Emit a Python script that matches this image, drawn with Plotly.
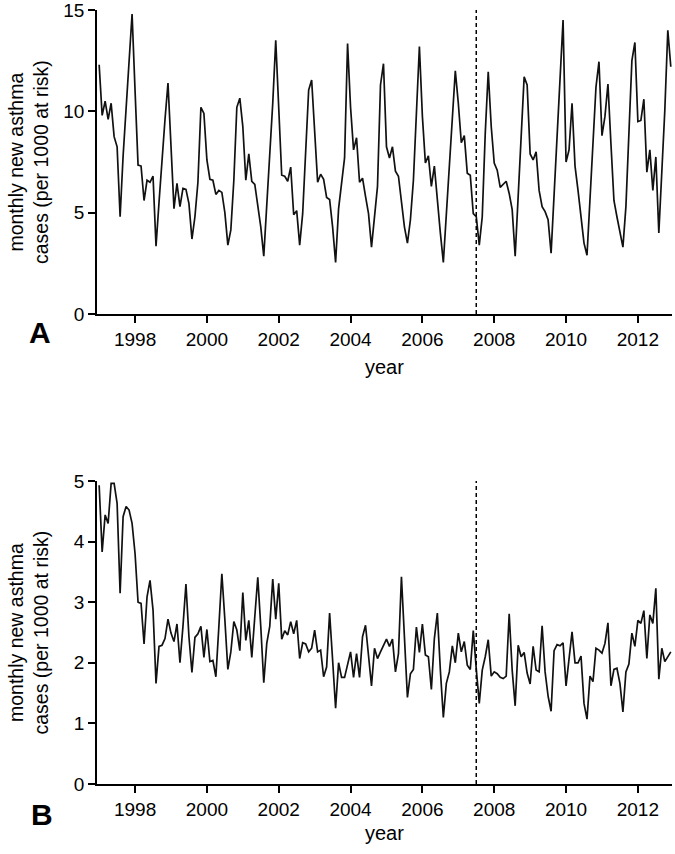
import plotly.graph_objects as go

# ---- data (monthly, Jan 1997 - Dec 2012) ----
start_year = 1997
panel_a = [
    12.3, 9.8, 10.5, 9.6, 10.4, 8.75, 8.25, 4.8, 7.8, 10.3, 12.9, 14.8,
    11.0, 7.35, 7.3, 5.6, 6.6, 6.5, 6.8, 3.35, 5.5, 7.8, 9.6, 11.4,
    8.3, 5.2, 6.45, 5.3, 6.2, 6.15, 5.45, 3.7, 4.8, 6.5, 10.2, 9.9,
    7.6, 6.65, 6.6, 5.9, 6.1, 6.0, 5.0, 3.4, 4.15, 6.6, 10.2, 10.65,
    9.25, 6.6, 7.9, 6.55, 6.4, 5.3, 4.3, 2.85, 5.3, 7.75, 10.4, 13.5,
    9.75, 6.85, 6.8, 6.55, 7.25, 4.9, 5.1, 3.4, 4.95, 7.9, 11.05, 11.55,
    9.0, 6.5, 6.9, 6.65, 5.75, 5.65, 4.3, 2.55, 5.2, 6.45, 7.7, 13.35,
    10.2, 8.1, 8.7, 6.5, 6.7, 5.8, 4.95, 3.3, 4.65, 6.3, 11.3, 12.35,
    8.25, 7.7, 8.25, 7.05, 6.8, 5.6, 4.3, 3.5, 4.65, 6.6, 9.9, 13.2,
    9.75, 7.45, 7.8, 6.3, 7.3, 5.45, 4.0, 2.55, 4.8, 7.1, 9.6, 12.0,
    10.4, 8.45, 8.8, 6.95, 6.85, 4.95, 4.8, 3.4, 4.8, 8.9, 11.95, 9.25,
    7.45, 7.1, 6.25, 6.4, 6.55, 5.95, 5.15, 2.85, 5.6, 8.6, 11.7, 11.3,
    7.9, 7.6, 8.0, 6.1, 5.3, 5.05, 4.65, 3.0, 5.8, 8.6, 11.4, 14.5,
    7.5, 8.1, 10.4, 7.3, 6.1, 4.8, 3.5, 2.9, 5.6, 8.6, 11.2, 12.45,
    8.8, 9.75, 11.35, 8.4, 5.6, 4.8, 4.0, 3.3, 5.3, 8.6, 12.5, 13.4,
    9.5, 9.55, 10.6, 7.0, 8.1, 6.1, 7.75, 4.0, 6.95, 10.05, 14.0, 12.2,
]
panel_b = [
    4.93, 3.83, 4.44, 4.3, 4.96, 4.96, 4.63, 3.15, 4.41, 4.58, 4.52, 4.3,
    3.8, 3.0, 2.98, 2.31, 3.09, 3.36, 2.87, 1.66, 2.27, 2.29, 2.4, 2.72,
    2.49, 2.35, 2.64, 2.0, 2.6, 3.3, 2.43, 1.84, 2.42, 2.48, 2.6, 2.09,
    2.55, 2.02, 2.04, 1.77, 2.6, 3.47, 2.71, 1.89, 2.18, 2.68, 2.54, 2.2,
    3.16, 2.37, 2.7, 2.09, 2.76, 3.41, 2.6, 1.67, 2.32, 2.6, 3.38, 2.72,
    3.31, 2.39, 2.53, 2.46, 2.68, 2.48, 2.7, 2.07, 2.33, 2.31, 2.18, 2.24,
    2.54, 2.18, 2.21, 1.77, 1.93, 2.82, 2.05, 1.25, 2.0, 1.76, 1.76, 1.99,
    2.18, 1.76, 2.15, 1.76, 2.43, 2.62, 2.1, 1.62, 2.24, 2.07, 2.18, 2.29,
    2.39, 2.27, 2.39, 1.85, 2.15, 3.42, 2.32, 1.43, 1.82, 1.89, 2.59, 2.17,
    2.64, 2.13, 2.1, 1.56, 2.4, 2.82, 1.88, 1.1, 1.66, 1.85, 2.28, 2.0,
    2.49, 2.18, 2.35, 1.96, 1.89, 2.53, 1.9, 1.33, 1.88, 2.1, 2.38, 1.78,
    1.85, 1.82, 1.76, 1.74, 1.78, 2.81, 1.88, 1.29, 2.29, 2.1, 2.17, 1.83,
    1.65, 2.27, 1.88, 1.85, 2.61, 1.85, 1.45, 1.2, 2.2, 2.3, 2.28, 2.33,
    1.62, 2.1, 2.51, 2.0, 2.0, 2.11, 1.33, 1.07, 1.78, 1.69, 2.24, 2.21,
    2.16, 2.32, 2.66, 1.62, 1.89, 1.91, 1.66, 1.19, 1.85, 1.98, 2.49, 2.27,
    2.7, 2.65, 2.86, 2.07, 2.79, 2.65, 3.23, 1.73, 2.24, 2.02, 2.1, 2.18,
]
intervention_year = 2007.5
x_tick_years = [1998, 2000, 2002, 2004, 2006, 2008, 2010, 2012]
y_ticks_a = [0, 5, 10, 15]
y_ticks_b = [0, 1, 2, 3, 4, 5]
y_title = "monthly new asthma<br>cases (per 1000 at risk)"

years = [start_year + i / 12 for i in range(len(panel_a))]

FONT = "Liberation Sans, Arial, sans-serif"
fig = go.Figure()
fig.add_trace(go.Scatter(x=years, y=panel_a, mode="lines",
                         line=dict(color="#111111", width=1.7),
                         xaxis="x", yaxis="y", showlegend=False,
                         cliponaxis=False))
fig.add_trace(go.Scatter(x=years, y=panel_b, mode="lines",
                         line=dict(color="#111111", width=1.7),
                         xaxis="x2", yaxis="y2", showlegend=False,
                         cliponaxis=False))

xr = [1996.94, 2012.95]
common_x = dict(range=xr, tickmode="array", tickvals=x_tick_years,
                ticktext=[str(y) for y in x_tick_years],
                showline=True, linecolor="black", linewidth=1.5,
                ticks="outside", ticklen=7, tickwidth=1.5, tickcolor="black",
                showgrid=False, zeroline=False, automargin=False,
                ticklabeloverflow="allow",
                tickfont=dict(family=FONT, size=19, color="black"))
common_y = dict(showline=True, linecolor="black", linewidth=1.5,
                ticks="outside", ticklen=7, tickwidth=1.5, tickcolor="black",
                showgrid=False, zeroline=False, automargin=False,
                ticklabeloverflow="allow",
                tickfont=dict(family=FONT, size=19, color="black"))

fig.update_layout(
    width=675, height=854,
    margin=dict(l=97, r=3, t=10, b=70),
    paper_bgcolor="white", plot_bgcolor="white",
    xaxis=dict(**common_x, anchor="y", domain=[0, 1]),
    yaxis=dict(**common_y, range=[0, 15], tickvals=y_ticks_a,
               ticktext=[str(v) for v in y_ticks_a],
               domain=[0.6072, 1.0], anchor="x"),
    xaxis2=dict(**common_x, anchor="y2", domain=[0, 1]),
    yaxis2=dict(**common_y, range=[0, 5], tickvals=y_ticks_b,
                ticktext=[str(v) for v in y_ticks_b],
                domain=[0.0, 0.3915], anchor="x2"),
    shapes=[
        dict(type="line", xref="x", yref="y domain", x0=intervention_year,
             x1=intervention_year, y0=0, y1=1,
             line=dict(color="black", width=1.5, dash="4px,3px")),
        dict(type="line", xref="x2", yref="y2 domain", x0=intervention_year,
             x1=intervention_year, y0=0, y1=1,
             line=dict(color="black", width=1.5, dash="4px,3px")),
    ],
)

ann = []
for yref in ("y domain", "y2 domain"):
    ann.append(dict(text=y_title, xref="paper", yref=yref, x=-0.12, y=0.5,
                    textangle=-90, showarrow=False, xanchor="center",
                    yanchor="middle",
                    font=dict(family=FONT, size=19.5, color="black")))
ann.append(dict(text="year", xref="x domain", yref="y domain", x=0.5, y=-0.175,
                showarrow=False, yanchor="middle",
                font=dict(family=FONT, size=20, color="black")))
ann.append(dict(text="year", xref="x2 domain", yref="y2 domain", x=0.5,
                y=-0.162, showarrow=False, yanchor="middle",
                font=dict(family=FONT, size=20, color="black")))
ann.append(dict(text="<b>A</b>", xref="paper", yref="y domain", x=-0.1,
                y=-0.06, showarrow=False, xanchor="center", yanchor="middle",
                font=dict(family=FONT, size=30, color="black")))
ann.append(dict(text="<b>B</b>", xref="paper", yref="y2 domain", x=-0.095,
                y=-0.1, showarrow=False, xanchor="center", yanchor="middle",
                font=dict(family=FONT, size=30, color="black")))
fig.update_layout(annotations=ann)

# remove the browser's default 8px page margin so the figure fills the window
fig.write_html("out.html", config={"displayModeBar": False},
               post_script="document.body.style.margin='0';")
